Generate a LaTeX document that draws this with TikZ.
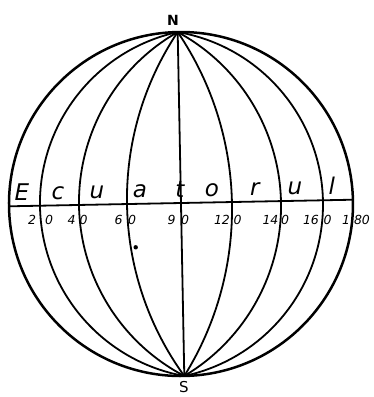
\documentclass[tikz,border=0pt]{standalone}
\usepackage{fontspec}
\setmainfont{DejaVu Sans}
\begin{document}
\begin{tikzpicture}[x=1pt,y=1pt,line cap=round,
  rim/.style={line width=2.5pt},
  meridian/.style={line width=1.8pt},
  bigletter/.style={anchor=base,inner sep=0pt,font=\fontsize{23}{23}\selectfont\itshape},
  num/.style={anchor=base,inner sep=0pt,font=\fontsize{12.5}{13}\selectfont\itshape},
  pole/.style={inner sep=0pt}]
\useasboundingbox (0,0) rectangle (374,397);
\coordinate (C) at (181,193);
\begin{scope}[rotate around={1.1:(C)}]
  \coordinate (N) at (181,365);
  \coordinate (S) at (181,21);
  \coordinate (W) at (9,194);
  \coordinate (E) at (353,194);
  \draw[rim] (C) circle[radius=172pt];
  \draw[meridian] (N) -- (S);
  % left meridians
  \draw[meridian] (N) arc[start angle=180-78.69, end angle=180+78.69, radius=175.41pt];
  \draw[meridian] (N) arc[start angle=180-61.33, end angle=180+61.33, radius=196.02pt];
  \draw[meridian] (N) arc[start angle=180-34.86, end angle=180+34.86, radius=300.93pt];
  % right meridians
  \draw[meridian] (N) arc[start angle=33.03, end angle=-33.03, radius=315.54pt];
  \draw[meridian] (N) arc[start angle=60.35, end angle=-60.35, radius=197.92pt];
  \draw[meridian] (N) arc[start angle=79.08, end angle=-79.08, radius=175.17pt];
  % equator
  \draw[meridian] (W) -- (E);
  \node[bigletter] (l1) at (22,200) {E};
  \node[bigletter] (l2) at (58,200) {c};
  \node[bigletter] (l3) at (97,200) {u};
  \node[bigletter] (l4) at (140,200) {a};
  \node[bigletter] (l5) at (180,200) {t};
  \node[bigletter] (l6) at (212,200) {o};
  \node[bigletter] (l7) at (255,200) {r};
  \node[bigletter] (l8) at (295,200) {u};
  \node[bigletter] (l9) at (332,200) {l};
\end{scope}
\fill (135.7,149.7) circle[radius=2.2pt];
\node[num] (n20a) at (32,172) {2};   \node[num] (n20b) at (49,172) {0};
\node[num] (n40a) at (71.5,172) {4}; \node[num] (n40b) at (83.5,172) {0};
\node[num] (n60a) at (118.5,172) {6};\node[num] (n60b) at (132,172) {0};
\node[num] (n90a) at (171.5,172) {9};\node[num] (n90b) at (185,172) {0};
\node[num] (n120a) at (222,172) {12};\node[num] (n120b) at (237.5,172) {0};
\node[num] (n140a) at (270.5,172) {14};\node[num] (n140b) at (285,172) {0};
\node[num] (n160a) at (311,172) {16};\node[num] (n160b) at (327.5,172) {0};
\node[num] (n180a) at (346,172) {1};\node[num] (n180b) at (362,172) {80};
\node[pole,font=\fontsize{14}{14}\selectfont\bfseries] (Nl) at (173,377) {N};
\node[pole,font=\fontsize{15}{15}\selectfont] (Sl) at (184,9.5) {S};
\end{tikzpicture}
\end{document}
